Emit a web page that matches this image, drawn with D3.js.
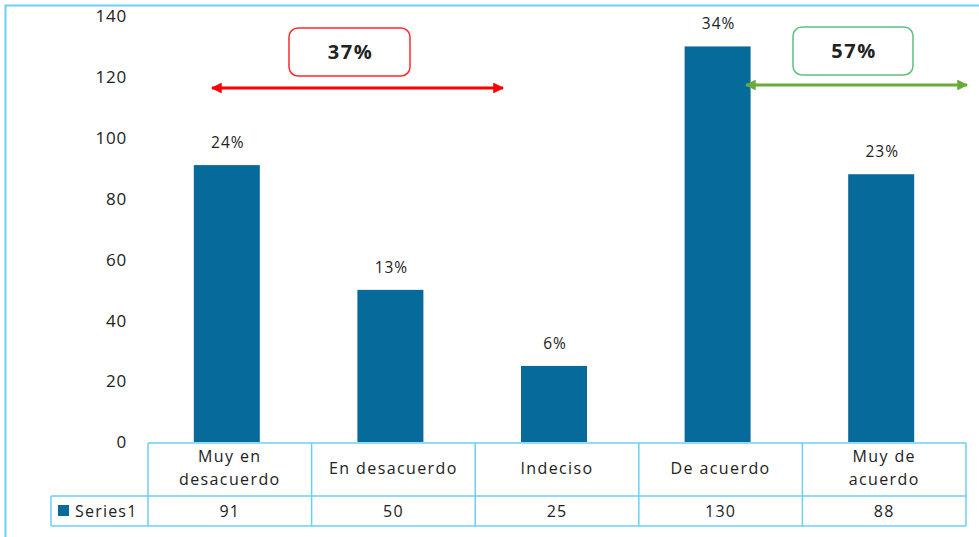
<!DOCTYPE html>
<html><head><meta charset="utf-8">
<script src="https://cdn.jsdelivr.net/npm/d3@7"></script>
<style>body{margin:0;background:#fff}svg{display:block}text{font-family:"Open Sans","Liberation Sans",sans-serif;fill:#222}</style>
</head><body><svg id="c" width="979" height="537"></svg>
<script>
const categories = [["Muy en","desacuerdo"],["En desacuerdo"],["Indeciso"],["De acuerdo"],["Muy de","acuerdo"]];
const values = [91, 50, 25, 130, 88];
const pctLabels = ["24%","13%","6%","34%","23%"];
const yTicks = [0,20,40,60,80,100,120,140];
const seriesName = "Series1";
const groups = [{label:"37%", from:0, to:2, color:"#ff0000", box:"#ff2a2a"},{label:"57%", from:3, to:4, color:"#6aaa3a", box:"#5fbf7f"}];

const svg = d3.select("#c");
const lineCol = "#6ccff6";
const barCol = "#066a9b";
const L = 148, R = 966, plotTop = 16, base = 442;
const x = d3.scaleBand().domain(d3.range(values.length)).range([L, R]).paddingInner(0).paddingOuter(0);
const y = d3.scaleLinear().domain([0,140]).range([base, plotTop]);

// outer frame
svg.append("path").attr("d",`M5.5,537 V5.5 H979`).attr("fill","none").attr("stroke",lineCol).attr("stroke-width",2);

// y axis labels
const yAxis = d3.axisLeft(y).tickValues(yTicks).tickSize(0).tickPadding(0);
const ga = svg.append("g").attr("transform","translate(127,0)").call(yAxis);
ga.select(".domain").remove();
ga.selectAll("text").style("font-size","17px").style("letter-spacing","0.8px").attr("fill","#222").attr("dy","0.34em").attr("font-family",'"Open Sans","Liberation Sans",sans-serif');

// bars
const bw = 66;
svg.selectAll("rect.bar").data(values).join("rect").attr("class","bar")
  .attr("x",(d,i)=>x(i)+x.bandwidth()/2-bw/2-3).attr("width",bw)
  .attr("y",d=>y(d)).attr("height",d=>base-y(d)).attr("fill",barCol);
svg.selectAll("text.pl").data(values).join("text").attr("class","pl")
  .attr("x",(d,i)=>x(i)+x.bandwidth()/2-2).attr("y",d=>y(d)-17)
  .attr("text-anchor","middle").style("font-size","15.5px").style("letter-spacing","1px").text((d,i)=>pctLabels[i]);

// table
const tTop = 443, tMid = 496, tBot = 526, legL = 51;
const tg = svg.append("g").attr("fill","none").attr("stroke",lineCol).attr("stroke-width",1.5);
tg.append("line").attr("x1",L).attr("x2",R).attr("y1",tTop).attr("y2",tTop);
tg.append("line").attr("x1",legL).attr("x2",R).attr("y1",tMid).attr("y2",tMid);
tg.append("line").attr("x1",legL).attr("x2",R).attr("y1",tBot).attr("y2",tBot);
tg.append("line").attr("x1",legL).attr("x2",legL).attr("y1",tMid).attr("y2",tBot);
d3.range(values.length+1).forEach(i=>{
  const xx = i<values.length? x(i) : R;
  tg.append("line").attr("x1",xx).attr("x2",xx).attr("y1",tTop).attr("y2",tBot);
});
categories.forEach((lines,i)=>{
  const cx = x(i)+x.bandwidth()/2;
  const t = svg.append("text").attr("text-anchor","middle").style("font-size","16px").style("letter-spacing","1.4px");
  const y0 = lines.length===1 ? 474 : 462;
  lines.forEach((s,k)=>t.append("tspan").attr("x",cx).attr("y",y0+k*23).text(s));
  svg.append("text").attr("x",cx).attr("y",517).attr("text-anchor","middle").style("font-size","16px").style("letter-spacing","1.2px").text(values[i]);
});
svg.append("rect").attr("x",58).attr("y",505).attr("width",11).attr("height",11).attr("fill",barCol);
svg.append("text").attr("x",75).attr("y",517).style("font-size","16px").style("letter-spacing","1.2px").text(seriesName);

// group annotations
const defs = svg.append("defs");
groups.forEach((g,gi)=>{
  ["s","e"].forEach(k=>{
    defs.append("marker").attr("id",`m${gi}${k}`).attr("viewBox","0 0 10 10").attr("refX",9).attr("refY",5)
      .attr("markerWidth",4.5).attr("markerHeight",3.6).attr("markerUnits","strokeWidth").attr("orient","auto-start-reverse")
      .append("path").attr("d","M0,0 L10,5 L0,10 Z").attr("fill",g.color);
  });
});
const ann = [
  {g:groups[0], x1:212, x2:503, ay:88, bx:289, by:28, bw:121, bh:48},
  {g:groups[1], x1:746, x2:967, ay:85, bx:793, by:27, bw:120, bh:48}
];
ann.forEach((a,gi)=>{
  svg.append("line").attr("x1",a.x1).attr("x2",a.x2).attr("y1",a.ay).attr("y2",a.ay)
    .attr("stroke",a.g.color).attr("stroke-width",3)
    .attr("marker-start",`url(#m${gi}s)`).attr("marker-end",`url(#m${gi}e)`);
  svg.append("rect").attr("x",a.bx).attr("y",a.by).attr("width",a.bw).attr("height",a.bh).attr("rx",9)
    .attr("fill","#fff").attr("stroke",a.g.box).attr("stroke-width",1.5);
  svg.append("text").attr("x",a.bx+a.bw/2+1).attr("y",a.by+a.bh/2+7).attr("text-anchor","middle")
    .style("font-size","20px").style("letter-spacing","1.5px").style("font-weight","bold").text(a.g.label);
});
</script></body></html>
